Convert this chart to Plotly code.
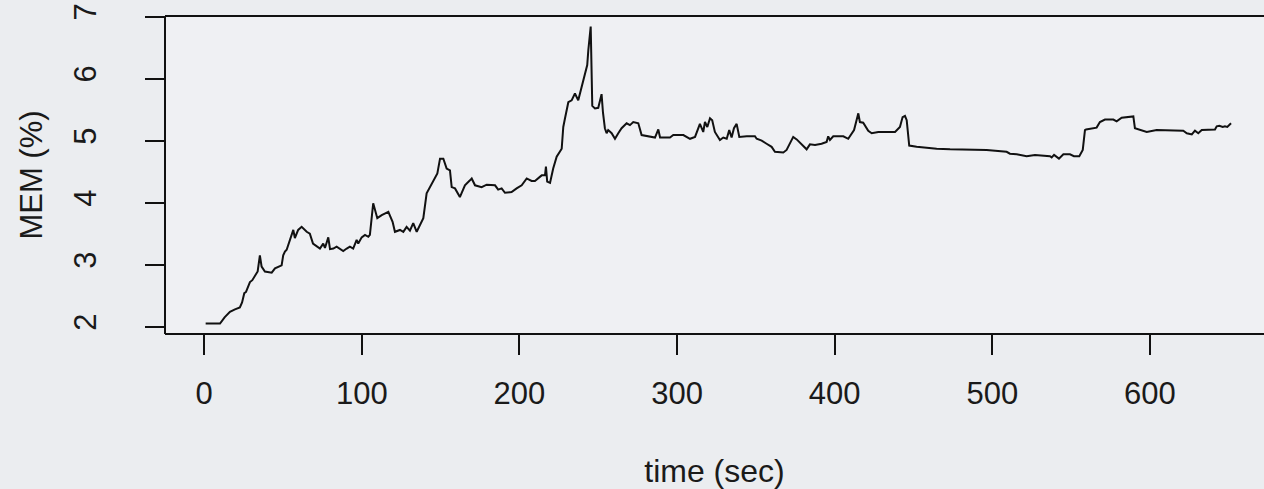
import plotly.graph_objects as go

# time (sec) and MEM (%)
time_sec = [0.9, 10, 12.9, 16.3, 19.5, 22.6, 24, 25.4, 26.5, 27.9, 29, 30.5, 32.2, 33.9, 35.3, 36.4,
            38.5, 42.8, 44.9, 47, 49.1, 50.1, 51.2, 52.3, 56.5, 57.5, 59.6, 61.8, 65, 67, 69,
            73.4, 75.5, 76.6, 78.7, 79.8, 81.9, 84, 88.2, 90.4, 92.4, 94.5, 96.7, 97.7, 99.9,
            102, 104.1, 105.1, 107.2, 109.8, 112.6, 116.8, 119.5, 121, 124.2, 126.3, 128.4,
            130.5, 132.6, 134.8, 139, 141.1, 143.2, 146.4, 147.9, 149.6, 151.7, 153.8, 155.9,
            157, 159.1, 162.2, 165.4, 168.6, 169.7, 171.8, 176, 179.2, 184.5, 186.5, 188.7,
            190.8, 195, 198.2, 201.4, 204.6, 207.7, 209.8, 214.1, 216.2, 216.8, 217.6, 219.4,
            221.4, 223.6, 226.8, 227.8, 228.9, 231, 233.1, 235.2, 237.3, 239.5, 241.6, 243,
            243.7, 245.2, 246.2, 247.9, 250, 252.1, 253, 254.2, 255.3, 256.3, 258.5, 260.6,
            262.7, 264.8, 268, 270.1, 272.2, 275.4, 277.5, 281.7, 286, 288.1, 289.2, 295.5,
            297.6, 304, 308.2, 311.4, 313.5, 314.5, 316.6, 317.7, 319.2, 320.9, 322.3, 324,
            327.2, 329.3, 331.5, 333.1, 334.6, 336.1, 337.8, 339.5, 344.2, 349.4, 350.5, 353.7,
            356.8, 360, 362.1, 367.4, 369.5, 373.7, 375.9, 379.1, 382.2, 384.3, 387.5, 391.7,
            394.9, 395.9, 397, 399.1, 405.5, 408.6, 412.3, 415, 416, 418.1, 421.3, 423.5,
            427.7, 430.9, 438.3, 441.4, 443.1, 444.6, 445.7, 447.3, 452, 464.7, 473.2, 496.4,
            509.1, 511.2, 515.5, 521.8, 527.1, 536.6, 537.7, 539.2, 542.3, 545.1, 549.3, 551.8,
            555.2, 557.4, 558.8, 559.5, 566.2, 568.3, 571.5, 576.8, 578.9, 582.1, 587.4, 589.5,
            590.5, 594.8, 598, 604.3, 621.2, 623.4, 626.6, 628.6, 630.7, 632.9, 638.1, 641.3,
            642.4, 644.1, 646.2, 647.6, 649.1, 651.5]
mem_pct = [2.05, 2.05, 2.15, 2.24, 2.28, 2.31, 2.39, 2.54, 2.56, 2.64, 2.72, 2.75, 2.81, 2.89, 3.15, 2.97,
           2.89, 2.87, 2.94, 2.97, 2.99, 3.15, 3.21, 3.24, 3.56, 3.43, 3.56, 3.61, 3.53, 3.50, 3.34,
           3.26, 3.34, 3.27, 3.44, 3.25, 3.26, 3.29, 3.22, 3.26, 3.29, 3.26, 3.40, 3.34, 3.44,
           3.48, 3.45, 3.48, 3.99, 3.75, 3.80, 3.85, 3.69, 3.53, 3.56, 3.53, 3.61,
           3.55, 3.67, 3.53, 3.75, 4.15, 4.25, 4.39, 4.47, 4.71, 4.71, 4.55, 4.52,
           4.25, 4.23, 4.09, 4.28, 4.36, 4.39, 4.28, 4.25, 4.29, 4.28, 4.21, 4.23,
           4.16, 4.17, 4.23, 4.28, 4.39, 4.35, 4.35, 4.44, 4.44, 4.58, 4.34, 4.32,
           4.55, 4.74, 4.87, 5.22, 5.36, 5.62, 5.65, 5.76, 5.65, 5.87, 6.05, 6.22,
           6.46, 6.84, 5.56, 5.52, 5.53, 5.75, 5.45, 5.20, 5.12, 5.17, 5.12, 5.03,
           5.12, 5.20, 5.28, 5.25, 5.30, 5.28, 5.09, 5.07, 5.05, 5.18, 5.05, 5.05,
           5.09, 5.09, 5.03, 5.06, 5.20, 5.27, 5.14, 5.30, 5.22, 5.36, 5.33, 5.14,
           5.01, 5.05, 5.03, 5.17, 5.05, 5.20, 5.27, 5.06, 5.07, 5.07, 5.03, 5.00,
           4.95, 4.90, 4.82, 4.81, 4.85, 5.06, 5.02, 4.94, 4.86, 4.94, 4.93, 4.95,
           4.98, 5.07, 5.01, 5.07, 5.07, 5.03, 5.17, 5.44, 5.30, 5.29, 5.16, 5.12,
           5.14, 5.14, 5.14, 5.22, 5.38, 5.40, 5.33, 4.92, 4.90, 4.87, 4.86, 4.85,
           4.82, 4.79, 4.78, 4.75, 4.77, 4.75, 4.73, 4.77, 4.71, 4.78, 4.78, 4.75,
           4.75, 4.85, 5.17, 5.18, 5.21, 5.30, 5.34, 5.34, 5.31, 5.37, 5.39, 5.39,
           5.20, 5.16, 5.14, 5.17, 5.16, 5.12, 5.10, 5.16, 5.12, 5.17, 5.18, 5.18,
           5.23, 5.24, 5.22, 5.23, 5.22, 5.28]

x_ticks = [0, 100, 200, 300, 400, 500, 600]
y_ticks = [2, 3, 4, 5, 6, 7]

FONT = "Liberation Sans, Arial, Helvetica, sans-serif"
INK = "#1a1a1a"
LINE = "#111111"

fig = go.Figure()
fig.add_trace(go.Scatter(x=time_sec, y=mem_pct, mode="lines",
                         line=dict(color=LINE, width=2), showlegend=False,
                         hoverinfo="skip"))

# plot box: left, top and bottom sides (the right side lies outside the picture)
for x0, x1, y0, y1 in [(0, 0, 0, 1), (0, 1.01, 1, 1), (0, 1.01, 0, 0)]:
    fig.add_shape(type="line", xref="paper", yref="paper", x0=x0, x1=x1, y0=y0, y1=y1,
                  line=dict(color=LINE, width=2), layer="above")

fig.update_layout(
    width=1264, height=489,
    margin=dict(l=165, r=0, t=16, b=155),
    paper_bgcolor="#ebedf0",
    plot_bgcolor="#eff0f3",
    font=dict(family=FONT, size=31, color=INK),
    xaxis=dict(
        range=[-24.9, 672.4], tickvals=x_ticks, ticktext=[str(v) for v in x_ticks],
        showgrid=False, zeroline=False, showline=False,
        ticks="outside", ticklen=20, tickwidth=2, tickcolor=LINE,
        ticklabelstandoff=12,
        title=dict(text="time (sec)", font=dict(size=32), standoff=53),
    ),
    yaxis=dict(
        range=[1.882, 7.01], tickvals=y_ticks, ticktext=[str(v) for v in y_ticks],
        showgrid=False, zeroline=False, showline=False,
        ticks="outside", ticklen=19, tickwidth=2, tickcolor=LINE,
        tickangle=-90, ticklabelstandoff=37,
        title=dict(text="MEM (%)", font=dict(size=31), standoff=15),
    ),
)

fig.write_html("out.html", config={"displayModeBar": False})
